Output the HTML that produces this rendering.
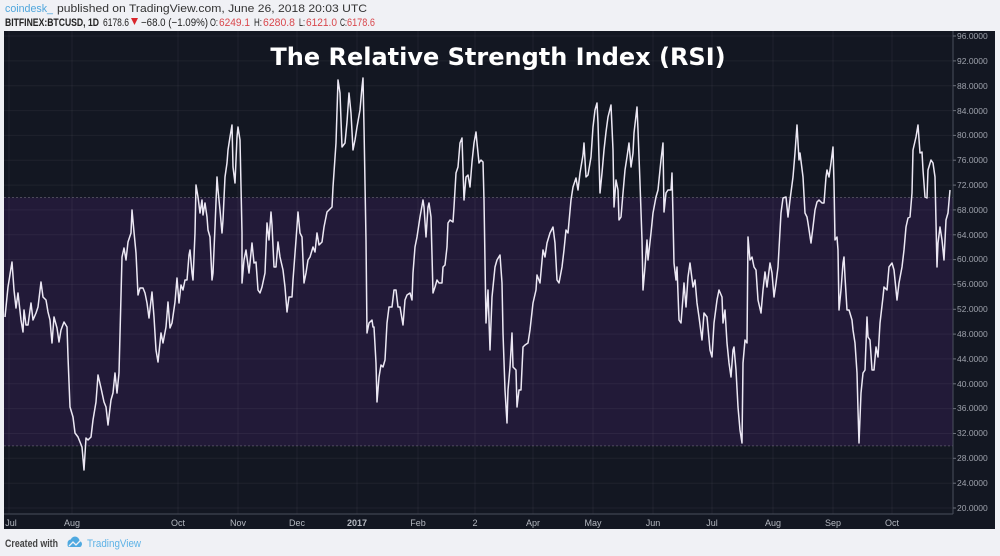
<!DOCTYPE html>
<html><head><meta charset="utf-8"><style>
html,body{margin:0;padding:0;background:#f0f1f5;}
svg{display:block;}
</style></head><body>
<svg width="1000" height="556" viewBox="0 0 1000 556" xmlns="http://www.w3.org/2000/svg" font-family="Liberation Sans, sans-serif">
<rect x="0" y="0" width="1000" height="556" fill="#f0f1f5"/>
<!-- header -->
<text x="5" y="12" font-size="11" fill="#4fa6dc" textLength="48" lengthAdjust="spacingAndGlyphs">coindesk_</text>
<text x="57" y="12" font-size="11" fill="#333" textLength="310" lengthAdjust="spacingAndGlyphs">published on TradingView.com, June 26, 2018 20:03 UTC</text>
<text x="5" y="26" font-size="11" fill="#222" font-weight="bold" textLength="94" lengthAdjust="spacingAndGlyphs">BITFINEX:BTCUSD, 1D</text>
<text x="103" y="26" font-size="11" fill="#222" textLength="26" lengthAdjust="spacingAndGlyphs">6178.6</text>
<polygon points="131,18 138,18 134.5,25" fill="#d9262c"/>
<text x="141" y="26" font-size="11" fill="#222" textLength="67" lengthAdjust="spacingAndGlyphs">−68.0 (−1.09%)</text>
<text x="210" y="26" font-size="11" fill="#222" textLength="8" lengthAdjust="spacingAndGlyphs">O:</text>
<text x="219" y="26" font-size="11" fill="#d9474c" textLength="31" lengthAdjust="spacingAndGlyphs">6249.1</text>
<text x="254" y="26" font-size="11" fill="#222" textLength="8" lengthAdjust="spacingAndGlyphs">H:</text>
<text x="263" y="26" font-size="11" fill="#d9474c" textLength="32" lengthAdjust="spacingAndGlyphs">6280.8</text>
<text x="299" y="26" font-size="11" fill="#222" textLength="6" lengthAdjust="spacingAndGlyphs">L:</text>
<text x="306" y="26" font-size="11" fill="#d9474c" textLength="31" lengthAdjust="spacingAndGlyphs">6121.0</text>
<text x="340" y="26" font-size="11" fill="#222" textLength="7" lengthAdjust="spacingAndGlyphs">C:</text>
<text x="347" y="26" font-size="11" fill="#d9474c" textLength="28" lengthAdjust="spacingAndGlyphs">6178.6</text>
<!-- chart bg -->
<rect x="4" y="31" width="991" height="498" fill="#131722"/>
<rect x="4" y="197.5" width="949" height="248.5" fill="#221a38"/>
<!-- horizontal grid -->
<g stroke="#ffffff" stroke-opacity="0.05" stroke-width="1">
<line x1="4" x2="953" y1="36" y2="36"/><line x1="4" x2="953" y1="60.9" y2="60.9"/><line x1="4" x2="953" y1="85.7" y2="85.7"/><line x1="4" x2="953" y1="110.6" y2="110.6"/><line x1="4" x2="953" y1="135.4" y2="135.4"/><line x1="4" x2="953" y1="160.2" y2="160.2"/><line x1="4" x2="953" y1="185.1" y2="185.1"/><line x1="4" x2="953" y1="209.9" y2="209.9"/><line x1="4" x2="953" y1="234.8" y2="234.8"/><line x1="4" x2="953" y1="259.6" y2="259.6"/><line x1="4" x2="953" y1="284.4" y2="284.4"/><line x1="4" x2="953" y1="309.3" y2="309.3"/><line x1="4" x2="953" y1="334.1" y2="334.1"/><line x1="4" x2="953" y1="358.9" y2="358.9"/><line x1="4" x2="953" y1="383.8" y2="383.8"/><line x1="4" x2="953" y1="408.6" y2="408.6"/><line x1="4" x2="953" y1="433.5" y2="433.5"/><line x1="4" x2="953" y1="458.3" y2="458.3"/><line x1="4" x2="953" y1="483.2" y2="483.2"/><line x1="4" x2="953" y1="508" y2="508"/>
</g>
<!-- vertical grid -->
<g stroke="#ffffff" stroke-opacity="0.05" stroke-width="1">
<line x1="9" x2="9" y1="31" y2="514"/><line x1="72" x2="72" y1="31" y2="514"/><line x1="178" x2="178" y1="31" y2="514"/><line x1="238" x2="238" y1="31" y2="514"/><line x1="297" x2="297" y1="31" y2="514"/><line x1="357" x2="357" y1="31" y2="514"/><line x1="418" x2="418" y1="31" y2="514"/><line x1="475" x2="475" y1="31" y2="514"/><line x1="533" x2="533" y1="31" y2="514"/><line x1="593" x2="593" y1="31" y2="514"/><line x1="653" x2="653" y1="31" y2="514"/><line x1="712" x2="712" y1="31" y2="514"/><line x1="773" x2="773" y1="31" y2="514"/><line x1="833" x2="833" y1="31" y2="514"/><line x1="892" x2="892" y1="31" y2="514"/>
</g>
<!-- band edges -->
<line x1="4" x2="953" y1="197.5" y2="197.5" stroke="#ffffff" stroke-opacity="0.22" stroke-dasharray="2,2"/>
<line x1="4" x2="953" y1="445.9" y2="445.9" stroke="#ffffff" stroke-opacity="0.22" stroke-dasharray="2,2"/>
<!-- axes -->
<line x1="953" x2="953" y1="31" y2="514" stroke="#4a4f5c" stroke-width="1"/>
<line x1="4" x2="953" y1="514" y2="514" stroke="#4a4f5c" stroke-width="1"/>
<!-- title -->
<text x="498" y="65" font-family="DejaVu Sans, sans-serif" font-weight="bold" font-size="24" fill="#ffffff" text-anchor="middle">The Relative Strength Index (RSI)</text>
<!-- RSI line -->
<polyline fill="none" stroke="#ece8f4" stroke-width="1.5" stroke-linejoin="round" points="5,317 8,287 12,262 14,290 16,308 18,293 21,320 23,332 24,310 26,325 28,325 31,303 33,320 36,313 38,307 41,282 43,297 46,300 48,312 50,320 52,343 54,317 57,328 59,342 61,330 64,322 67,327 68,357 70,407 73,417 75,433 78,437 82,447 84,470 86,438 88,440 91,437 93,420 96,402 98,375 101,388 104,402 106,407 108,425 111,400 113,393 115,373 117,393 119,373 122,257 124,248 126,260 128,242 131,233 132,210 134,232 136,253 138,295 140,288 143,288 145,293 147,303 149,318 152,292 154,317 156,350 158,362 161,333 163,343 166,327 168,302 170,328 172,323 175,302 177,278 179,303 181,285 183,290 185,280 187,280 189,255 190,250 192,273 193,280 195,233 196,185 198,197 200,213 202,200 203,215 205,203 207,217 208,230 210,237 212,280 213,273 215,227 217,177 218,190 220,210 222,233 223,220 225,177 227,163 228,150 230,137 232,125 233,167 235,183 237,137 238,127 240,140 242,233 242,283 244,260 246,250 249,273 251,253 252,243 254,263 256,262 258,290 260,293 262,287 265,273 267,223 269,240 271,212 272,225 274,267 276,267 278,242 280,257 283,270 285,287 287,312 289,297 292,297 293,280 296,240 298,212 300,233 302,237 304,283 306,273 308,260 310,257 313,247 315,252 317,233 319,245 322,242 324,227 327,212 329,210 332,207 333,187 336,143 338,80 340,93 342,147 345,143 347,122 349,93 351,113 353,150 355,140 357,127 360,110 362,87 363,78 364,127 366,240 367,333 369,323 372,320 373,327 374,327 376,363 377,402 379,377 381,365 383,367 385,360 387,323 389,307 392,307 394,290 396,290 398,307 400,307 403,325 405,300 407,295 410,293 412,300 413,273 415,247 417,237 420,217 423,200 424,207 426,237 428,207 429,203 431,217 433,293 435,287 437,280 439,283 442,283 443,267 445,265 447,247 448,223 450,220 453,222 454,207 456,173 458,167 460,143 462,138 464,200 466,177 468,175 470,187 472,162 474,143 476,132 477,143 479,163 481,160 483,162 484,200 486,323 488,290 490,350 492,297 495,267 497,260 500,255 502,283 503,333 505,390 507,423 508,390 510,367 512,333 513,367 516,370 517,407 519,390 521,390 523,347 525,345 528,343 530,330 533,303 536,290 537,275 540,283 543,250 545,257 547,243 550,233 553,227 555,243 557,280 559,283 562,267 564,250 566,230 568,233 571,200 573,187 576,178 578,190 580,173 583,155 584,143 586,177 588,175 591,157 593,127 595,110 597,103 598,123 600,193 602,173 604,150 606,132 608,117 611,105 613,150 614,207 616,180 618,190 619,220 621,217 623,193 625,170 627,157 629,143 631,167 633,153 634,133 637,107 638,130 640,183 642,240 643,290 645,267 647,240 648,260 651,233 653,213 656,197 658,190 661,160 663,143 664,212 666,193 668,190 671,190 672,173 673,217 674,263 676,280 677,267 679,320 681,323 683,297 684,283 686,307 688,277 690,263 693,287 695,280 697,303 699,317 702,340 704,313 707,317 710,350 712,357 714,323 717,300 719,290 722,297 723,323 725,310 727,343 729,363 731,377 733,350 734,347 736,370 738,407 740,430 742,443 743,363 745,340 747,343 748,237 750,260 752,257 754,267 756,270 758,300 761,313 763,290 765,272 767,287 770,263 772,273 774,297 776,283 778,267 781,213 783,198 786,197 788,217 790,200 793,177 795,153 797,125 799,160 800,153 803,177 805,213 807,217 808,223 811,243 813,227 815,210 817,202 819,200 822,203 824,203 826,177 827,170 829,177 831,163 833,147 834,183 835,240 837,237 838,250 839,310 841,290 843,263 844,257 845,277 847,310 849,310 852,320 853,330 855,343 857,373 858,410 859,443 861,393 863,373 865,370 867,317 868,337 870,340 872,370 874,370 876,347 878,357 880,323 883,297 884,287 887,290 889,267 892,263 894,270 897,300 899,283 902,267 904,250 906,227 908,218 910,217 912,193 913,150 916,137 918,125 920,153 922,152 923,170 925,197 927,198 928,170 931,160 933,163 935,177 937,267 938,243 940,227 942,240 944,260 946,220 948,213 950,190"/>
<!-- y axis labels -->
<g font-size="8.5" fill="#9ea2ac">
<text x="957" y="39">96.0000</text><text x="957" y="64">92.0000</text><text x="957" y="89">88.0000</text><text x="957" y="114">84.0000</text><text x="957" y="138">80.0000</text><text x="957" y="163">76.0000</text><text x="957" y="188">72.0000</text><text x="957" y="213">68.0000</text><text x="957" y="238">64.0000</text><text x="957" y="262">60.0000</text><text x="957" y="287">56.0000</text><text x="957" y="312">52.0000</text><text x="957" y="337">48.0000</text><text x="957" y="362">44.0000</text><text x="957" y="387">40.0000</text><text x="957" y="411">36.0000</text><text x="957" y="436">32.0000</text><text x="957" y="461">28.0000</text><text x="957" y="486">24.0000</text><text x="957" y="511">20.0000</text>
</g>
<g stroke="#6a6f7a" stroke-width="1">
<line x1="953" x2="956" y1="36" y2="36"/><line x1="953" x2="956" y1="60.9" y2="60.9"/><line x1="953" x2="956" y1="85.7" y2="85.7"/><line x1="953" x2="956" y1="110.6" y2="110.6"/><line x1="953" x2="956" y1="135.4" y2="135.4"/><line x1="953" x2="956" y1="160.2" y2="160.2"/><line x1="953" x2="956" y1="185.1" y2="185.1"/><line x1="953" x2="956" y1="209.9" y2="209.9"/><line x1="953" x2="956" y1="234.8" y2="234.8"/><line x1="953" x2="956" y1="259.6" y2="259.6"/><line x1="953" x2="956" y1="284.4" y2="284.4"/><line x1="953" x2="956" y1="309.3" y2="309.3"/><line x1="953" x2="956" y1="334.1" y2="334.1"/><line x1="953" x2="956" y1="358.9" y2="358.9"/><line x1="953" x2="956" y1="383.8" y2="383.8"/><line x1="953" x2="956" y1="408.6" y2="408.6"/><line x1="953" x2="956" y1="433.5" y2="433.5"/><line x1="953" x2="956" y1="458.3" y2="458.3"/><line x1="953" x2="956" y1="483.2" y2="483.2"/><line x1="953" x2="956" y1="508" y2="508"/>
</g>
<!-- x axis labels -->
<g font-size="9" fill="#b4b8c0" text-anchor="middle">
<text x="11" y="526">Jul</text><text x="72" y="526">Aug</text><text x="178" y="526">Oct</text><text x="238" y="526">Nov</text><text x="297" y="526">Dec</text><text x="357" y="526" font-weight="bold">2017</text><text x="418" y="526">Feb</text><text x="475" y="526">2</text><text x="533" y="526">Apr</text><text x="593" y="526">May</text><text x="653" y="526">Jun</text><text x="712" y="526">Jul</text><text x="773" y="526">Aug</text><text x="833" y="526">Sep</text><text x="892" y="526">Oct</text>
</g>
<!-- footer -->
<text x="5" y="547" font-size="11" fill="#444" font-weight="bold" textLength="53" lengthAdjust="spacingAndGlyphs">Created with</text>
<g fill="#4fa9e0">
<circle cx="71" cy="543" r="3.5"/><circle cx="75" cy="541" r="4.5"/><circle cx="79" cy="544" r="3"/>
<rect x="67.5" y="543" width="14" height="4" rx="2"/>
</g>
<path d="M69,546 L73,542 L76,545 L80,541" stroke="#f0f1f5" stroke-width="1.3" fill="none"/>
<text x="87" y="547" font-size="11" fill="#5db2e6" textLength="54" lengthAdjust="spacingAndGlyphs">TradingView</text>
</svg>
</body></html>
